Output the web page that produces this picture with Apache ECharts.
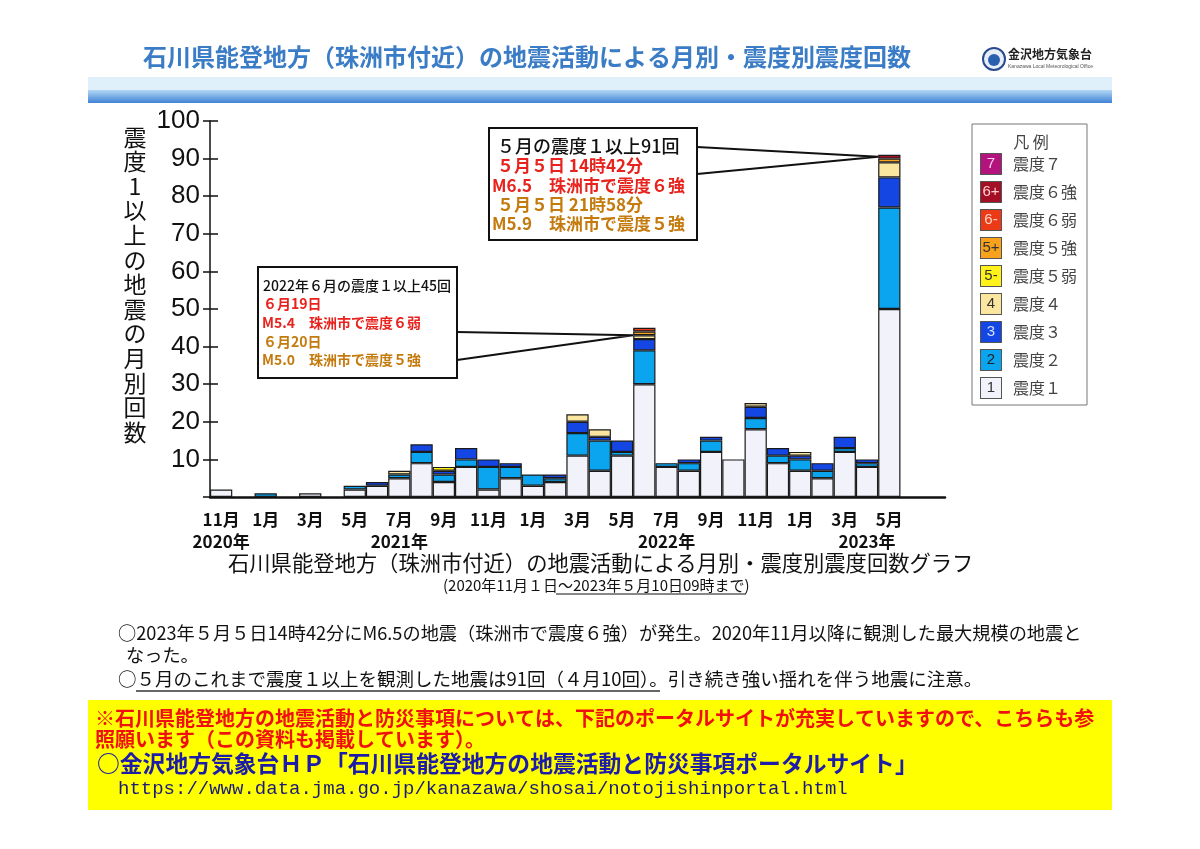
<!DOCTYPE html>
<html><head><meta charset="utf-8">
<script src="https://cdn.jsdelivr.net/npm/echarts@6.0.0/dist/echarts.min.js"></script>
<style>html,body{margin:0;padding:0;background:#fff}#c{width:1200px;height:849px}</style>
</head><body><div id="c"></div>
<script>
// ---- categories (Nov 2020 .. Jul 2023) ----
const categories = ['2020-11','2020-12','2021-01','2021-02','2021-03','2021-04','2021-05','2021-06','2021-07','2021-08','2021-09','2021-10','2021-11','2021-12','2022-01','2022-02','2022-03','2022-04','2022-05','2022-06','2022-07','2022-08','2022-09','2022-10','2022-11','2022-12','2023-01','2023-02','2023-03','2023-04','2023-05','2023-06','2023-07'];
const monthTicks = ['11月','','1月','','3月','','5月','','7月','','9月','','11月','','1月','','3月','','5月','','7月','','9月','','11月','','1月','','3月','','5月','',''];
const yearTicks  = ['2020年','','','','','','','','2021年','','','','','','','','','','','','2022年','','','','','','','','','2023年','','',''];

// ---- monthly counts by seismic intensity ----
const shindo1  = [2,0,0,0,1,0,2,3,5,9,4,8,2,5,3,4,11,7,11,30,8,7,12,10,18,9,7,5,12,8,50,0,0];
const shindo2  = [0,0,1,0,0,0,1,0,1,3,2,2,6,3,3,1,6,8,1,9,1,2,3,0,3,2,3,2,1,1,27,0,0];
const shindo3  = [0,0,0,0,0,0,0,1,0,2,1,3,2,1,0,1,3,1,3,3,0,1,1,0,3,2,1,2,3,1,8,0,0];
const shindo4  = [0,0,0,0,0,0,0,0,1,0,0,0,0,0,0,0,2,2,0,1,0,0,0,0,1,0,1,0,0,0,4,0,0];
const shindo5m = [0,0,0,0,0,0,0,0,0,0,1,0,0,0,0,0,0,0,0,0,0,0,0,0,0,0,0,0,0,0,0,0,0];
const shindo5p = [0,0,0,0,0,0,0,0,0,0,0,0,0,0,0,0,0,0,0,1,0,0,0,0,0,0,0,0,0,0,1,0,0];
const shindo6m = [0,0,0,0,0,0,0,0,0,0,0,0,0,0,0,0,0,0,0,1,0,0,0,0,0,0,0,0,0,0,0,0,0];
const shindo6p = [0,0,0,0,0,0,0,0,0,0,0,0,0,0,0,0,0,0,0,0,0,0,0,0,0,0,0,0,0,0,1,0,0];
const shindo7  = [0,0,0,0,0,0,0,0,0,0,0,0,0,0,0,0,0,0,0,0,0,0,0,0,0,0,0,0,0,0,0,0,0];

const levelNames = ['震度１','震度２','震度３','震度４','震度５弱','震度５強','震度６弱','震度６強','震度７'];
const levelSymbols = ['1','2','3','4','5-','5+','6-','6+','7'];
const levelValues = [shindo1,shindo2,shindo3,shindo4,shindo5m,shindo5p,shindo6m,shindo6p,shindo7];
const levelColors = ['#f2f2fb','#0aa5ee','#1446e4','#fbe6a0','#fff21a','#f7a11c','#ec3a17','#a40f26','#b3137d'];
const symbolColors = ['#333','#222','#cfe0ff','#333','#333','#333','#ffd6c8','#ffd0d0','#ffd0ee'];

const yTicks = [0,10,20,30,40,50,60,70,80,90,100];

const FONT = "'Noto Sans CJK JP', sans-serif";
const chart = echarts.init(document.getElementById('c'));

const rich = { t: { fontSize: 16, color: '#444', fontFamily: FONT, padding: [0,0,0,12] } };
levelNames.forEach((n, k) => {
  rich['s' + k] = { width: 20, height: 20, lineHeight: 20, align: 'center', backgroundColor: levelColors[k],
    borderColor: '#555', borderWidth: 1, color: symbolColors[k], fontSize: 15, fontFamily: "'Liberation Sans', sans-serif" };
});

const series = levelNames.map((name, k) => ({
  name, type: 'bar', stack: 'total', barCategoryGap: '0%',
  data: levelValues[k].map(v => v === 0 ? '-' : v),
  itemStyle: { color: levelColors[k], borderColor: '#1a1a1a', borderWidth: 1.2 },
  emphasis: { disabled: true }
}));

function txt(id, x, y, text, opt) {
  return Object.assign({ type: 'text', id, x, y, z: 20,
    style: Object.assign({ text, fontFamily: FONT, fontSize: 16, fill: '#111', align: 'left', verticalAlign: 'middle' }, opt || {}) });
}

const staticGraphics = [
  // header bands
  { type: 'rect', id: 'band1', shape: { x: 88, y: 77, width: 1024, height: 13 }, style: { fill: '#dff0fb' } },
  { type: 'rect', id: 'band2', shape: { x: 88, y: 90, width: 1024, height: 13 },
    style: { fill: new echarts.graphic.LinearGradient(0, 0, 0, 1, [{ offset: 0, color: '#b4d8f4' }, { offset: 1, color: '#3f82d6' }]) } },
  txt('title', 143, 57, '石川県能登地方（珠洲市付近）の地震活動による月別・震度別震度回数', { fontSize: 24, fontWeight: 'bold', fill: '#3a7cc6' }),
  // logo
  { type: 'circle', id: 'logo1', shape: { cx: 994, cy: 59, r: 11 }, style: { fill: '#e8eef8', stroke: '#2a4a8f', lineWidth: 2 } },
  { type: 'circle', id: 'logo2', shape: { cx: 994, cy: 60, r: 6 }, style: { fill: '#2a5fb0' } },
  txt('logo3', 1008, 54, '金沢地方気象台', { fontSize: 12, fontWeight: 'bold', fill: '#222' }),
  txt('logo4', 1008, 67, 'Kanazawa Local Meteorological Office', { fontSize: 5, fill: '#555', fontFamily: "'Liberation Sans', sans-serif" }),
  // legend title
  txt('legtitle', 1031, 142, '凡 例', { fontSize: 16, fill: '#444', align: 'center' }),
  // captions
  txt('cap1', 228, 563, '石川県能登地方（珠洲市付近）の地震活動による月別・震度別震度回数グラフ', { fontSize: 21.3 }),
  txt('cap2', 443, 585, '(2020年11月１日～2023年５月10日09時まで)', { fontSize: 15 }),
  { type: 'line', id: 'cap2u', shape: { x1: 556, y1: 594, x2: 746, y2: 594 }, style: { stroke: '#111', lineWidth: 1 } },
  // notes
  txt('n1', 118, 633, '○2023年５月５日14時42分にM6.5の地震（珠洲市で震度６強）が発生。2020年11月以降に観測した最大規模の地震と', { fontSize: 18.2 }),
  txt('n2', 126, 655, 'なった。', { fontSize: 18.2 }),
  txt('n3', 118, 679, '○５月のこれまで震度１以上を観測した地震は91回（４月10回）。引き続き強い揺れを伴う地震に注意。', { fontSize: 18.5 }),
  { type: 'line', id: 'n3u', shape: { x1: 136, y1: 691, x2: 660, y2: 691 }, style: { stroke: '#333', lineWidth: 1.5 } },
  // yellow box
  { type: 'rect', id: 'ybox', shape: { x: 88, y: 700, width: 1024, height: 110 }, style: { fill: '#ffff00' } },
  txt('y1', 95, 718, '※石川県能登地方の地震活動と防災事項については、下記のポータルサイトが充実していますので、こちらも参', { fontSize: 20, fontWeight: 'bold', fill: '#f01010' }),
  txt('y2', 95, 739, '照願います（この資料も掲載しています）。', { fontSize: 20, fontWeight: 'bold', fill: '#f01010' }),
  txt('y3', 97, 763, '○金沢地方気象台ＨＰ「石川県能登地方の地震活動と防災事項ポータルサイト」', { fontSize: 22.8, fontWeight: 'bold', fill: '#1c1ca8' }),
  txt('y4', 118, 789, 'https://www.data.jma.go.jp/kanazawa/shosai/notojishinportal.html', { fontSize: 19, fill: '#1a1a78', fontFamily: "'Liberation Mono', monospace" })
];

chart.setOption({
  animation: false,
  backgroundColor: '#fff',
  grid: { left: 210, right: 255, top: 121, bottom: 352 },
  legend: {
    data: levelNames.slice().reverse(), orient: 'vertical', left: 972, top: 124,
    padding: [29, 10, 6, 4], itemGap: 6, itemWidth: 0, itemHeight: 20,
    itemStyle: { opacity: 0, borderWidth: 0 },
    borderColor: '#777', borderWidth: 1, selectedMode: false,
    formatter: name => { const k = levelNames.indexOf(name); return '{s' + k + '|' + levelSymbols[k] + '}{t|' + name + '}'; },
    textStyle: { rich }
  },
  xAxis: {
    type: 'category', data: categories,
    axisLine: { lineStyle: { color: '#111', width: 2.5 } },
    axisTick: { show: false },
    axisLabel: {
      interval: 0, margin: 12, lineHeight: 22, fontSize: 17, fontWeight: 'bold', color: '#111', fontFamily: FONT,
      formatter: (v, i) => { const m = monthTicks[i], y = yearTicks[i]; if (!m && !y) return ''; return m + (y ? '\n' + y : ''); }
    }
  },
  yAxis: [{
    type: 'value', min: 0, max: 100, interval: 10,
    name: '震度1以上の地震の月別回数'.split('').join('\n') + '\n\n', nameLocation: 'middle', nameGap: 75, nameRotate: 0,
    nameTextStyle: { fontSize: 23, lineHeight: 24.6, color: '#111', fontFamily: FONT, align: 'center', verticalAlign: 'middle' },
    axisLine: { show: true, lineStyle: { color: '#111', width: 1.5 } },
    axisTick: { show: true, length: 7, lineStyle: { color: '#111', width: 1.5 } },
    axisLabel: { margin: 10, fontSize: 26, color: '#111', fontFamily: "'Liberation Sans', sans-serif",
      formatter: v => (yTicks.indexOf(v) > 0 ? String(v) : '') },
    splitLine: { show: false }
  }, {
    type: 'value', min: 0, max: 100, interval: 10, position: 'left',
    axisLine: { show: false }, axisLabel: { show: false }, splitLine: { show: false },
    axisTick: { show: true, inside: true, length: 8, lineStyle: { color: '#111', width: 1.5 } }
  }],
  series,
  graphic: staticGraphics
});

// annotation boxes anchored to the bar tops via the chart's scales
function leftEdge(idx, val) {
  const p = chart.convertToPixel({ xAxisIndex: 0, yAxisIndex: 0 }, [idx, val]);
  const p2 = chart.convertToPixel({ xAxisIndex: 0, yAxisIndex: 0 }, [idx + 1, val]);
  return [p[0] - (p2[0] - p[0]) / 2, p[1]];
}
const tMay = leftEdge(30, 90.5);
const tJun = leftEdge(19, 43);

const annot = [
  { type: 'polyline', id: 'ptr1', z: 19, shape: { points: [[697, 147], tMay, [697, 174]] }, style: { stroke: '#111', lineWidth: 2, fill: null } },
  { type: 'rect', id: 'box1', z: 20, shape: { x: 489, y: 128, width: 208, height: 112 }, style: { fill: '#fff', stroke: '#111', lineWidth: 2 } },
  txt('b1a', 497, 146, '５月の震度１以上91回', { fontSize: 18, fontWeight: 500, fill: '#111' }),
  txt('b1b', 497, 166, '５月５日 14時42分', { fontSize: 17, fontWeight: 'bold', fill: '#e8231e' }),
  txt('b1c', 492, 186, 'M6.5　珠洲市で震度６強', { fontSize: 17, fontWeight: 'bold', fill: '#e8231e' }),
  txt('b1d', 497, 205, '５月５日 21時58分', { fontSize: 17, fontWeight: 'bold', fill: '#c47a0c' }),
  txt('b1e', 492, 224, 'M5.9　珠洲市で震度５強', { fontSize: 17, fontWeight: 'bold', fill: '#c47a0c' }),
  { type: 'polyline', id: 'ptr2', z: 19, shape: { points: [[457, 332], tJun, [457, 360]] }, style: { stroke: '#111', lineWidth: 2, fill: null } },
  { type: 'rect', id: 'box2', z: 20, shape: { x: 258, y: 267, width: 199, height: 111 }, style: { fill: '#fff', stroke: '#111', lineWidth: 2 } },
  txt('b2a', 263, 286, '2022年６月の震度１以上45回', { fontSize: 14, fontWeight: 500, fill: '#111' }),
  txt('b2b', 263, 304, '６月19日', { fontSize: 14, fontWeight: 'bold', fill: '#e8231e' }),
  txt('b2c', 262, 323, 'M5.4　珠洲市で震度６弱', { fontSize: 14, fontWeight: 'bold', fill: '#e8231e' }),
  txt('b2d', 263, 342, '６月20日', { fontSize: 14, fontWeight: 'bold', fill: '#c47a0c' }),
  txt('b2e', 262, 360, 'M5.0　珠洲市で震度５強', { fontSize: 14, fontWeight: 'bold', fill: '#c47a0c' })
];
chart.setOption({ graphic: annot });
</script>
</body></html>
